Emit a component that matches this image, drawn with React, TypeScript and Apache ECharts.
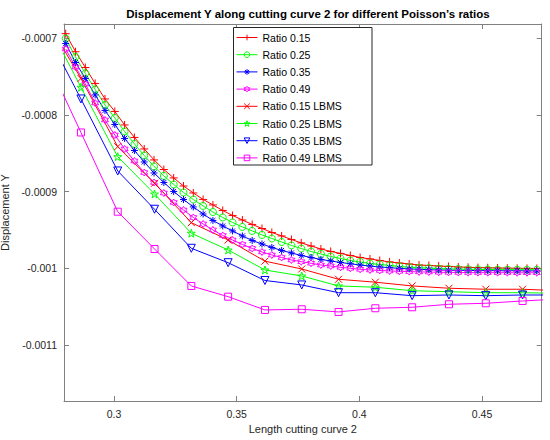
import React, { useEffect, useRef } from "react";
import * as echarts from "echarts";

const title = "Displacement Y along cutting curve 2 for different Poisson’s ratios";
const xName = "Length cutting curve 2";
const yName = "Displacement Y";

const xTicks = [0.3, 0.35, 0.4, 0.45];
const yTicks = [-0.0011, -0.001, -0.0009, -0.0008, -0.0007];
const xMin = 0.2796;
const xMax = 0.4743;
const yMin = -0.0011729;
const yMax = -0.0006814;

const xDense = [
  0.2803, 0.2843, 0.2883, 0.2923, 0.2963, 0.3003, 0.3043, 0.3083, 0.3123, 0.3163,
  0.3203, 0.3243, 0.3283, 0.3323, 0.3363, 0.3403, 0.3443, 0.3483, 0.3523, 0.3563,
  0.3603, 0.3643, 0.3683, 0.3723, 0.3763, 0.3803, 0.3843, 0.3883, 0.3923, 0.3963,
  0.4003, 0.4043, 0.4083, 0.4123, 0.4163, 0.4203, 0.4243, 0.4283, 0.4323, 0.4363,
  0.4403, 0.4443, 0.4483, 0.4523, 0.4563, 0.4603, 0.4643, 0.4683, 0.4723,
];

const ratio015 = [
  -0.000694, -0.0007175, -0.0007381, -0.0007589, -0.0007791, -0.0007954, -0.000813, -0.0008293, -0.0008443, -0.0008586,
  -0.0008711, -0.0008821, -0.0008926, -0.0009017, -0.0009101, -0.0009173, -0.0009245, -0.000931, -0.0009369, -0.0009427,
  -0.000948, -0.0009532, -0.0009577, -0.0009623, -0.0009668, -0.0009708, -0.0009747, -0.0009779, -0.0009805, -0.0009832,
  -0.0009858, -0.0009877, -0.0009897, -0.0009916, -0.000993, -0.0009943, -0.0009956, -0.0009962, -0.0009969, -0.0009975,
  -0.0009982, -0.0009986, -0.000999, -0.0009992, -0.0009995, -0.0009997, -0.0009999, -0.001, -0.0010001,
];
const ratio025 = [
  -0.0007003, -0.0007244, -0.0007459, -0.0007668, -0.000787, -0.0008039, -0.0008215, -0.0008378, -0.0008528, -0.0008671,
  -0.0008795, -0.0008906, -0.000901, -0.0009102, -0.0009186, -0.0009265, -0.0009336, -0.0009401, -0.000946, -0.0009512,
  -0.0009564, -0.000961, -0.0009656, -0.0009701, -0.0009741, -0.000978, -0.0009812, -0.0009845, -0.0009871, -0.0009897,
  -0.0009917, -0.0009936, -0.0009949, -0.0009962, -0.0009975, -0.0009986, -0.0009992, -0.0009997, -0.0010003, -0.0010007,
  -0.0010009, -0.0010012, -0.0010013, -0.0010014, -0.0010016, -0.0010017, -0.0010017, -0.0010018, -0.0010018,
];
const ratio035 = [
  -0.0007068, -0.0007316, -0.0007524, -0.0007739, -0.0007941, -0.0008124, -0.0008306, -0.0008463, -0.0008613, -0.0008756,
  -0.000888, -0.0008997, -0.0009102, -0.0009199, -0.0009291, -0.0009375, -0.0009447, -0.0009512, -0.0009577, -0.0009636,
  -0.0009682, -0.0009727, -0.0009766, -0.0009799, -0.0009832, -0.0009858, -0.0009884, -0.0009903, -0.0009923, -0.000994,
  -0.0009956, -0.0009969, -0.0009982, -0.0009991, -0.0009999, -0.0010007, -0.0010012, -0.0010017, -0.0010021, -0.0010024,
  -0.0010026, -0.0010027, -0.0010029, -0.001003, -0.001003, -0.0010031, -0.0010031, -0.0010033, -0.0010033,
];
const ratio049 = [
  -0.000714, -0.0007375, -0.0007596, -0.0007844, -0.0008065, -0.0008261, -0.0008443, -0.00086, -0.000875, -0.000888,
  -0.0009017, -0.0009141, -0.0009239, -0.0009336, -0.0009421, -0.0009499, -0.0009571, -0.000963, -0.0009688, -0.000974,
  -0.0009786, -0.0009825, -0.0009858, -0.000989, -0.0009913, -0.0009933, -0.0009956, -0.0009969, -0.0009986, -0.0009999,
  -0.0010012, -0.0010021, -0.0010027, -0.0010034, -0.0010038, -0.0010042, -0.0010046, -0.0010048, -0.0010051, -0.0010052,
  -0.0010053, -0.0010055, -0.0010055, -0.0010056, -0.0010056, -0.0010056, -0.0010057, -0.0010057, -0.0010057,
];

const xLbms = [
  0.2715, 0.2865, 0.3015, 0.3165, 0.3315, 0.3465, 0.3615, 0.3765, 0.3915, 0.4065, 0.4215, 0.4365, 0.4515, 0.4665, 0.4815,
];
const ratio015Lbms = [
  -0.0006711, -0.0007524, -0.0008413, -0.000889, -0.0009404, -0.000963, -0.0009906, -0.0010008, -0.0010142, -0.001018,
  -0.0010229, -0.0010259, -0.0010272, -0.0010272, -0.0010291,
];
const ratio025Lbms = [
  -0.0006712, -0.0007639, -0.0008544, -0.000903, -0.0009542, -0.000976, -0.0010021, -0.0010099, -0.0010229, -0.0010246,
  -0.0010291, -0.0010304, -0.0010317, -0.0010317, -0.0010325,
];
const ratio035Lbms = [
  -0.0006866, -0.0007791, -0.000873, -0.0009229, -0.0009738, -0.0009926, -0.0010158, -0.0010216, -0.0010317, -0.0010317,
  -0.0010356, -0.0010347, -0.0010356, -0.0010347, -0.0010347,
];
const ratio049Lbms = [
  -0.0007201, -0.0008228, -0.0009261, -0.0009747, -0.0010229, -0.0010369, -0.0010542, -0.0010533, -0.0010568, -0.001052,
  -0.0010507, -0.0010468, -0.0010455, -0.0010425, -0.0010399,
];

const seriesNames = [
  "Ratio 0.15",
  "Ratio 0.25",
  "Ratio 0.35",
  "Ratio 0.49",
  "Ratio 0.15 LBMS",
  "Ratio 0.25 LBMS",
  "Ratio 0.35 LBMS",
  "Ratio 0.49 LBMS",
];

const RED = "#ff0000";
const GREEN = "#00ff00";
const BLUE = "#0000ff";
const MAGENTA = "#ff00ff";
const seriesColors = [RED, GREEN, BLUE, MAGENTA, RED, GREEN, BLUE, MAGENTA];

const SYM_PLUS = "path://M0,5L10,5M5,0L5,10";
const SYM_STAR = "path://M0,5L10,5M5,0L5,10M1.5,1.5L8.5,8.5M1.5,8.5L8.5,1.5";
const SYM_CROSS = "path://M0,0L10,10M0,10L10,0";
const SYM_HEX =
  "path://M5,0L6.443,2.5L9.33,2.5L7.887,5L9.33,7.5L6.443,7.5L5,10L3.557,7.5L0.67,7.5L2.113,5L0.67,2.5L3.557,2.5Z";
const SYM_PENTA =
  "path://M5,0L6.123,3.455L9.755,3.455L6.817,5.59L7.939,9.045L5,6.91L2.061,9.045L3.183,5.59L0.245,3.455L3.877,3.455Z";
const SYM_TRI = "path://M0,0L10,0L5,8.66Z";
const seriesSymbols = [SYM_PLUS, "circle", SYM_STAR, SYM_HEX, SYM_CROSS, SYM_PENTA, SYM_TRI, "rect"];

const FONT = "'Liberation Sans', Arial, Helvetica, sans-serif";
const AXIS_COLOR = "#808080";
const TEXT_COLOR = "#262626";
const CLEAR = "rgba(0,0,0,0)";

const fmt = (v: number) => String(parseFloat(Number(v).toPrecision(4)));

function pairs(xs: number[], ys: number[]) {
  return ys.map((y, i) => [xs[i], y]);
}

function makeSeries(idx: number, xs: number[], ys: number[], size: number) {
  const color = seriesColors[idx];
  return {
    name: seriesNames[idx],
    type: "line",
    data: pairs(xs, ys),
    xAxisIndex: 0,
    yAxisIndex: 0,
    clip: true,
    color,
    symbol: seriesSymbols[idx],
    symbolSize: size,
    showAllSymbol: true,
    lineStyle: { color, width: 1 },
    itemStyle: { color: CLEAR, borderColor: color, borderWidth: 1 },
    emphasis: { disabled: true },
  };
}

export default function App() {
  const ref = useRef<HTMLDivElement>(null);

  useEffect(() => {
    if (!ref.current) return;
    const chart = echarts.init(ref.current, null, { renderer: "svg" });

    const axisCommon = {
      type: "value",
      splitLine: { show: false },
      axisLine: { show: true, onZero: false, lineStyle: { color: AXIS_COLOR, width: 1 } },
    };

    const option: any = {
      animation: false,
      backgroundColor: "#ffffff",
      title: {
        text: title,
        left: 303,
        top: 3,
        textAlign: "center",
        textStyle: { fontFamily: FONT, fontSize: 11.5, fontWeight: "bold", color: "#000" },
      },
      grid: { left: 64, right: 8.3, top: 24, bottom: 39, containLabel: false, outerBoundsMode: "none" },
      legend: {
        orient: "vertical",
        left: 236,
        top: 31.5,
        padding: 0,
        itemWidth: 21,
        itemHeight: 7,
        itemGap: 5.2,
        z: 6,
        selectedMode: false,
        data: seriesNames.map((name, i) => ({
          name,
          itemStyle: { color: CLEAR, borderColor: seriesColors[i], borderWidth: 1 },
          lineStyle: { color: seriesColors[i], width: 1 },
        })),
        textStyle: { fontFamily: FONT, fontSize: 10.5, color: "#000", lineHeight: 12, height: 12 },
      },
      graphic: [
        {
          type: "rect",
          shape: { x: 233.5, y: 27.5, width: 138.5, height: 137.5 },
          style: { fill: "#fff", stroke: "#262626", lineWidth: 1 },
          z: 5,
        },
      ],
      xAxis: [
        {
          ...axisCommon,
          min: xMin,
          max: xMax,
          position: "bottom",
          axisTick: { show: true, inside: true, length: 5, customValues: xTicks, lineStyle: { color: AXIS_COLOR } },
          axisLabel: {
            customValues: xTicks,
            formatter: fmt,
            color: TEXT_COLOR,
            fontFamily: FONT,
            fontSize: 10.5,
            margin: 7,
          },
          name: xName,
          nameLocation: "middle",
          nameGap: 21,
          nameTextStyle: { fontFamily: FONT, fontSize: 11, color: TEXT_COLOR },
        },
        {
          ...axisCommon,
          min: xMin,
          max: xMax,
          position: "top",
          axisTick: { show: true, inside: true, length: 5, customValues: xTicks, lineStyle: { color: AXIS_COLOR } },
          axisLabel: { show: false },
        },
      ],
      yAxis: [
        {
          ...axisCommon,
          min: yMin,
          max: yMax,
          position: "left",
          axisTick: { show: true, inside: true, length: 5, customValues: yTicks, lineStyle: { color: AXIS_COLOR } },
          axisLabel: {
            customValues: yTicks,
            formatter: fmt,
            color: TEXT_COLOR,
            fontFamily: FONT,
            fontSize: 10.5,
            margin: 7,
          },
          name: yName,
          nameLocation: "middle",
          nameGap: 43,
          nameRotate: 90,
          nameTextStyle: { fontFamily: FONT, fontSize: 11, color: TEXT_COLOR },
        },
        {
          ...axisCommon,
          min: yMin,
          max: yMax,
          position: "right",
          axisTick: { show: true, inside: true, length: 5, customValues: yTicks, lineStyle: { color: AXIS_COLOR } },
          axisLabel: { show: false },
        },
      ],
      series: [
        makeSeries(0, xDense, ratio015, 8),
        makeSeries(1, xDense, ratio025, 7),
        makeSeries(2, xDense, ratio035, 7),
        makeSeries(3, xDense, ratio049, 7),
        makeSeries(4, xLbms, ratio015Lbms, 7),
        makeSeries(5, xLbms, ratio025Lbms, 8),
        makeSeries(6, xLbms, ratio035Lbms, 8),
        makeSeries(7, xLbms, ratio049Lbms, 7),
      ],
    };

    chart.setOption(option);
    return () => chart.dispose();
  }, []);

  return (
    <div
      ref={ref}
      style={{ position: "fixed", left: 0, top: 0, width: 550, height: 440, background: "#fff" }}
    />
  );
}
